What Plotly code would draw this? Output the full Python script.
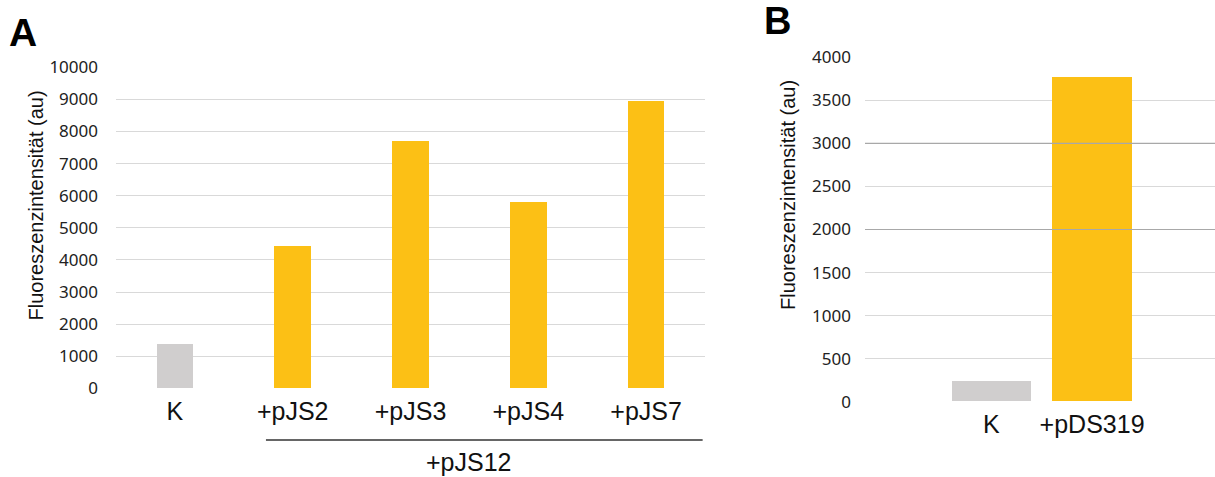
import plotly.graph_objects as go

# Panel A: fluorescence of the control and the pJS12 combinations
a_categories = ["K", "+pJS2", "+pJS3", "+pJS4", "+pJS7"]
a_values = [1380, 4430, 7700, 5780, 8940]
a_ticks = [0, 1000, 2000, 3000, 4000, 5000, 6000, 7000, 8000, 9000, 10000]

# Panel B: fluorescence of the control and pDS319
b_categories = ["K", "+pDS319"]
b_values = [240, 3770]
b_ticks = [0, 500, 1000, 1500, 2000, 2500, 3000, 3500, 4000]
b_dark_levels = [2000, 3000]

GREY = "#D0CECE"
GOLD = "#FCC015"
GRID = "#D9D9D9"
CAT_FONT = dict(family="Liberation Sans, Arial", size=25, color="#111111")
TITLE_FONT = dict(family="Liberation Sans, Arial", size=20, color="#111111")
TICK_FONT = dict(family="Noto Sans", size=17, color="#222222")

W, H = 1215, 477
B_RANGE = [-1.254, 2.22]


def px(x):
    return x / W


def py(y):
    return 1 - y / H


fig = go.Figure()

# Darker reference lines in panel B, drawn before the bars so they sit beneath
for level in b_dark_levels:
    fig.add_trace(go.Scatter(
        x=B_RANGE, y=[level, level], xaxis="x2", yaxis="y2",
        mode="lines", line=dict(color="#A8A8A8", width=1.2),
        showlegend=False, hoverinfo="skip",
    ))

fig.add_trace(go.Bar(
    x=list(range(len(a_categories))), y=a_values, xaxis="x", yaxis="y",
    marker=dict(color=[GREY] + [GOLD] * 4, line=dict(width=0)),
    width=0.31, showlegend=False, hovertext=a_categories, hoverinfo="text+y",
))

fig.add_trace(go.Bar(
    x=list(range(len(b_categories))), y=b_values, xaxis="x2", yaxis="y2",
    marker=dict(color=[GREY, GOLD], line=dict(width=0)),
    width=0.79, showlegend=False, hovertext=b_categories, hoverinfo="text+y",
))

fig.update_layout(
    width=W, height=H,
    margin=dict(l=0, r=0, t=0, b=0, pad=0, autoexpand=False),
    paper_bgcolor="white", plot_bgcolor="white",
    bargap=0,
    xaxis=dict(domain=[px(116), px(705)], anchor="y", type="linear",
               range=[-0.5, 4.5], tickvals=list(range(len(a_categories))),
               ticktext=a_categories, ticklabelstandoff=6,
               showgrid=False, zeroline=False, showline=False, ticks="",
               tickfont=CAT_FONT, automargin=False, fixedrange=True),
    yaxis=dict(domain=[py(388.3), py(67.3)], anchor="x",
               range=[0, 10000], tickvals=a_ticks, ticklabelstandoff=17,
               showgrid=True, gridcolor=GRID, gridwidth=1.3,
               zeroline=False, showline=False, ticks="", tickformat="d",
               tickfont=TICK_FONT, automargin=False, fixedrange=True),
    xaxis2=dict(domain=[px(865), 1.0], anchor="y2", type="linear",
                range=B_RANGE, tickvals=list(range(len(b_categories))),
                ticktext=b_categories, ticklabelstandoff=5,
                showgrid=False, zeroline=False, showline=False, ticks="",
                tickfont=CAT_FONT, automargin=False, fixedrange=True),
    yaxis2=dict(domain=[py(401.7), py(57.3)], anchor="x2",
                range=[0, 4000], tickvals=b_ticks, ticklabelstandoff=13,
                showgrid=True, gridcolor=GRID, gridwidth=1.3,
                zeroline=False, showline=False, ticks="", tickformat="d",
                tickfont=TICK_FONT, automargin=False, fixedrange=True),
)

# Bracket line grouping the pJS12 combinations
fig.add_shape(
    type="line", xref="x", yref="paper",
    x0=0.773, x1=4.48, y0=py(440), y1=py(440),
    line=dict(color="#333333", width=1.3),
)

annotations = [
    dict(text="+pJS12", x=2.5, xref="x", y=py(461.5), yref="paper",
         showarrow=False, font=CAT_FONT, xanchor="center", yanchor="middle"),
    dict(text="Fluoreszenzintensität (au)", x=px(35), y=py(205.5),
         xref="paper", yref="paper", textangle=-90, showarrow=False,
         font=TITLE_FONT, xanchor="center", yanchor="middle"),
    dict(text="Fluoreszenzintensität (au)", x=px(788), y=py(195),
         xref="paper", yref="paper", textangle=-90, showarrow=False,
         font=TITLE_FONT, xanchor="center", yanchor="middle"),
    dict(text="<b>A</b>", x=px(23), y=py(33), xref="paper", yref="paper",
         showarrow=False, xanchor="center", yanchor="middle",
         font=dict(family="Liberation Sans, Arial", size=39, color="black")),
    dict(text="<b>B</b>", x=px(778), y=1, xref="paper", yref="paper",
         showarrow=False, xanchor="center", yanchor="top", yshift=2,
         font=dict(family="Liberation Sans, Arial", size=38, color="black")),
]
fig.update_layout(annotations=annotations)

fig.write_html("out.html")
